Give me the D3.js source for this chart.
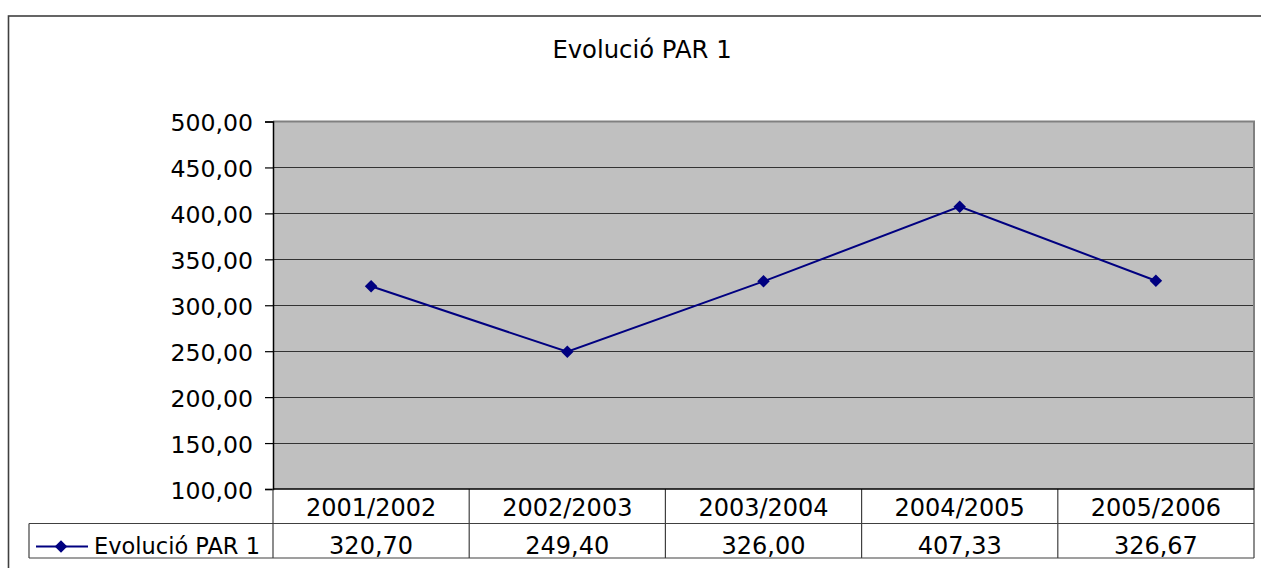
<!DOCTYPE html>
<head>
    <meta charset='utf-8'>
    <style>
        body {
            margin: 0;
            background: #fff;
            font-family: 'DejaVu Sans', Verdana, sans-serif;
        }
        .ylab { font-family: 'DejaVu Sans', Verdana, sans-serif; font-size: 23.6px; fill: #000; }
        .cell { font-size: 24px; fill: #000; }
    </style>
</head>

<body>
<div id='vis'></div>
<script src='https://d3js.org/d3.v7.min.js'></script>
<script>
  const title = 'Evolució PAR 1'
  const seriesName = 'Evolució PAR 1'
  const categories = ['2001/2002', '2002/2003', '2003/2004', '2004/2005', '2005/2006']
  const values = [320.70, 249.40, 326.00, 407.33, 326.67]
  const yTicks = [100, 150, 200, 250, 300, 350, 400, 450, 500]

  const W = 1261, H = 568
  const plot = {left: 273, right: 1254, top: 121.5, bottom: 489}
  const rowH = 34.5

  const fmt = v => d3.format('.2f')(v).replace('.', ',')

  const svg = d3.select('#vis')
    .append('svg')
    .attr('width', W)
    .attr('height', H)

  // marc exterior
  svg.append('rect')
    .attr('x', 8.5).attr('y', 16)
    .attr('width', W + 20).attr('height', H + 20)
    .attr('fill', '#fff')
    .attr('stroke', '#404040')
    .attr('stroke-width', 1.6)

  svg.append('text')
    .attr('x', 642).attr('y', 57.5)
    .attr('text-anchor', 'middle')
    .style('font-size', '24.3px')
    .text(title)

  const x = d3.scaleBand()
    .domain(categories)
    .range([plot.left, plot.right])

  const y = d3.scaleLinear()
    .domain([100, 500])
    .range([plot.bottom, plot.top])

  // fons de l'area de dibuix
  svg.append('rect')
    .attr('x', plot.left).attr('y', plot.top)
    .attr('width', plot.right - plot.left).attr('height', plot.bottom - plot.top)
    .attr('fill', '#c0c0c0')

  // linies de graella
  svg.append('g')
    .selectAll('line')
    .data(yTicks.filter(t => t > 100 && t < 500))
    .join('line')
    .attr('x1', plot.left).attr('x2', plot.right)
    .attr('y1', d => Math.round(y(d)) + 0.5).attr('y2', d => Math.round(y(d)) + 0.5)
    .attr('stroke', '#333')
    .attr('stroke-width', 1.2)

  // vora grisa de dalt i dreta
  svg.append('path')
    .attr('d', `M${plot.left},${plot.top} H${plot.right} V${plot.bottom}`)
    .attr('fill', 'none')
    .attr('stroke', '#808080')
    .attr('stroke-width', 2)

  // eix Y
  const yAxis = svg.append('g')
    .attr('transform', `translate(${plot.left},0)`)
    .call(d3.axisLeft(y).tickValues(yTicks).tickSize(8).tickPadding(12).tickFormat(fmt))
  yAxis.attr('font-family', null).attr('font-size', null)
  yAxis.select('.domain').attr('stroke', '#000').attr('stroke-width', 1.5)
  yAxis.selectAll('.tick line').attr('stroke', '#000').attr('stroke-width', 1.2)
  yAxis.selectAll('.tick text')
    .attr('class', 'ylab')
    .attr('dy', '0.4em')

  // taula de dades
  const table = svg.append('g')
  const gridColor = '#404040'
  const r1 = plot.bottom, r2 = plot.bottom + rowH, r3 = plot.bottom + 2 * rowH
  const legendLeft = 29

  table.append('line')
    .attr('x1', legendLeft).attr('x2', plot.right)
    .attr('y1', r2).attr('y2', r2)
    .attr('stroke', gridColor).attr('stroke-width', 1.2)
  table.append('line')
    .attr('x1', legendLeft).attr('x2', plot.right)
    .attr('y1', r3).attr('y2', r3)
    .attr('stroke', gridColor).attr('stroke-width', 1.2)
  table.append('line')
    .attr('x1', legendLeft).attr('x2', legendLeft)
    .attr('y1', r2).attr('y2', r3)
    .attr('stroke', gridColor).attr('stroke-width', 1.2)
  table.selectAll('.sep')
    .data(categories.map(c => x(c)).concat([plot.right]))
    .join('line')
    .attr('class', 'sep')
    .attr('x1', d => d).attr('x2', d => d)
    .attr('y1', r1).attr('y2', r3)
    .attr('stroke', gridColor).attr('stroke-width', 1.2)

  // eix X (linia de base)
  svg.append('line')
    .attr('x1', plot.left).attr('x2', plot.right)
    .attr('y1', plot.bottom).attr('y2', plot.bottom)
    .attr('stroke', '#000').attr('stroke-width', 1.5)

  table.selectAll('.cat')
    .data(categories)
    .join('text')
    .attr('class', 'cell cat')
    .attr('x', d => x(d) + x.bandwidth() / 2)
    .attr('y', r1 + 27)
    .attr('text-anchor', 'middle')
    .text(d => d)

  table.selectAll('.val')
    .data(values)
    .join('text')
    .attr('class', 'cell val')
    .attr('x', (d, i) => x(categories[i]) + x.bandwidth() / 2)
    .attr('y', r2 + 30)
    .attr('text-anchor', 'middle')
    .text(d => fmt(d))

  // llegenda dins la taula
  const lineColor = '#000080'
  const ly = r2 + 23
  table.append('line')
    .attr('x1', 36).attr('x2', 88)
    .attr('y1', ly).attr('y2', ly)
    .attr('stroke', lineColor).attr('stroke-width', 2)
  table.append('path')
    .attr('d', d3.symbol(d3.symbolDiamond2, 100)())
    .attr('transform', `translate(61,${ly})`)
    .attr('fill', lineColor)
  table.append('text')
    .attr('x', 94).attr('y', r2 + 30)
    .style('font-size', '22.5px')
    .text(seriesName)

  // serie
  const line = d3.line()
    .x((d, i) => x(categories[i]) + x.bandwidth() / 2)
    .y(d => y(d))

  svg.append('path')
    .datum(values)
    .attr('d', line)
    .attr('fill', 'none')
    .attr('stroke', lineColor)
    .attr('stroke-width', 2)

  svg.append('g')
    .selectAll('path')
    .data(values)
    .join('path')
    .attr('d', d3.symbol(d3.symbolDiamond2, 100)())
    .attr('transform', (d, i) => `translate(${x(categories[i]) + x.bandwidth() / 2},${y(d)})`)
    .attr('fill', lineColor)
</script>
</body>
